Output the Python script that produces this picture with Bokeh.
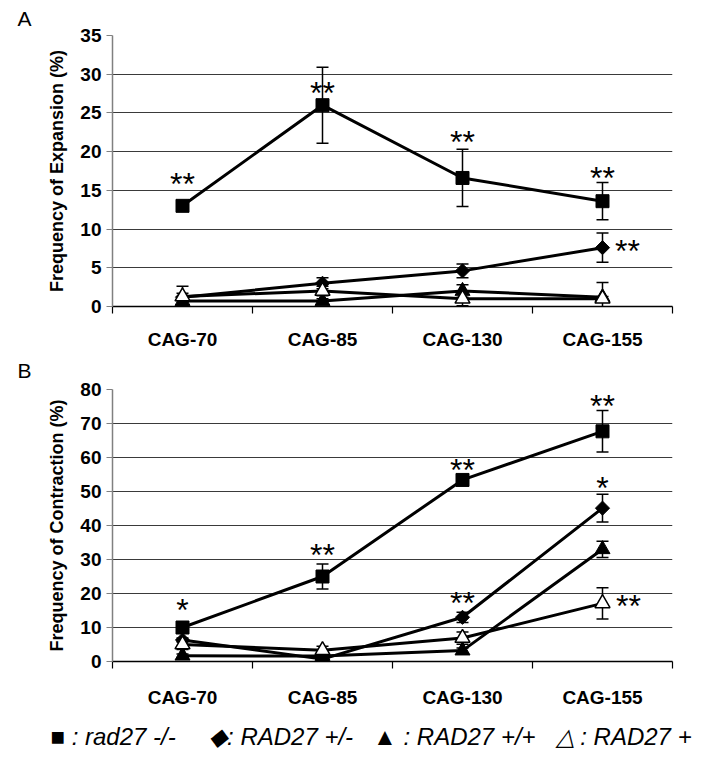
import math
from bokeh.plotting import figure
from bokeh.models import (ColumnDataSource, Range1d, FixedTicker, Whisker, TeeHead, Title)
from bokeh.layouts import column
from bokeh.embed import file_html
from bokeh.resources import INLINE
from bokeh.core.properties import value

# ---------------- data ----------------
categories = ["CAG-70", "CAG-85", "CAG-130", "CAG-155"]
series_names = ["rad27 -/-", "RAD27 +/-", "RAD27 +/+", "RAD27 +"]
series_symbols = ["\u25a0", "\u25c6", "\u25b2", "\u25b3"]

# Panel A: frequency of expansion (%)
exp_rad27_mm = [13.0, 26.0, 16.6, 13.6]
exp_rad27_mm_err = [0.6, 4.9, 3.7, 2.4]
exp_RAD27_pm = [1.2, 3.0, 4.6, 7.6]
exp_RAD27_pm_err = [0.5, 0.7, 0.9, 1.9]
exp_RAD27_pp = [0.7, 0.7, 2.0, 1.2]
exp_RAD27_pp_err = [0.5, 0.3, 0.8, 1.9]
exp_RAD27_p = [1.3, 2.0, 1.0, 1.0]
exp_RAD27_p_err = [1.3, 0.6, 0.9, 0.3]

# Panel B: frequency of contraction (%)
con_rad27_mm = [10.0, 25.0, 53.4, 67.7]
con_rad27_mm_err = [0.8, 3.7, 1.2, 6.1]
con_RAD27_pm = [6.3, 0.7, 13.0, 45.1]
con_RAD27_pm_err = [0.6, 0.4, 1.5, 4.1]
con_RAD27_pp = [1.7, 1.6, 3.2, 33.0]
con_RAD27_pp_err = [0.5, 0.4, 0.8, 2.4]
con_RAD27_p = [5.0, 3.3, 6.9, 17.1]
con_RAD27_p_err = [1.5, 1.2, 1.8, 4.6]

exp_ticks = [0, 5, 10, 15, 20, 25, 30, 35]
con_ticks = [0, 10, 20, 30, 40, 50, 60, 70, 80]

# significance marks: (series index, category index, text)
exp_stars = [(0, 0, "**"), (0, 1, "**"), (0, 2, "**"), (0, 3, "**"), (1, 3, "**")]
con_stars = [(0, 0, "*"), (0, 1, "**"), (0, 2, "**"), (0, 3, "**"),
             (1, 2, "**"), (1, 3, "*"), (3, 3, "**")]

# ---------------- styles / placement ----------------
FONT = "Liberation Sans"
# pixel offsets of the significance marks relative to their data point
exp_star_off = [(0, -25), (0, -15), (0, -39), (0, -26), (25, 0)]
con_star_off = [(0, -21), (0, -25), (0, -13), (0, -28), (0, -17), (0, -23), (26, 0)]

marker_styles = [
    dict(marker="square", size=13, angle=0.0, fill_color="black", line_width=1),
    dict(marker="square", size=10, angle=math.pi / 4, fill_color="black", line_width=1),
    dict(marker="triangle", size=15, angle=0.0, fill_color="black", line_width=1),
    dict(marker="triangle", size=15, angle=0.0, fill_color="white", line_width=1.5),
]

NB = "\u00a0"
legend_text = (series_symbols[0] + NB + ":" + NB + series_names[0] + NB * 5
               + series_symbols[1] + ":" + NB + series_names[1] + NB * 3
               + series_symbols[2] + NB + ":" + NB + series_names[2] + NB * 3
               + series_symbols[3] + NB + ":" + NB + series_names[3])


def make_panel(vals, errs, ticks, ylabel, stars, star_off, letter,
               top_border, frame_h, bottom_border, label_standoff, letter_standoff):
    p = figure(frame_width=560, frame_height=frame_h,
               min_border_left=112, min_border_right=33,
               min_border_top=top_border, min_border_bottom=bottom_border,
               x_range=Range1d(0, len(categories)),
               y_range=Range1d(ticks[0], ticks[-1]),
               output_backend="svg", toolbar_location=None)
    p.outline_line_color = None
    p.background_fill_color = "white"
    p.border_fill_color = "white"

    p.title = Title(text=letter, align="left", offset=-95, standoff=letter_standoff,
                    vertical_align="top",
                    text_font=FONT, text_font_size="21px", text_font_style="normal",
                    text_color="black")

    centers = [i + 0.5 for i in range(len(categories))]
    xa = p.xaxis[0]
    xa.ticker = FixedTicker(ticks=centers, minor_ticks=list(range(len(categories) + 1)))
    xa.major_label_overrides = {c: n for c, n in zip(centers, categories)}
    xa.major_tick_out = 0
    xa.major_tick_in = 0
    xa.minor_tick_out = 7
    xa.minor_tick_in = 0
    xa.minor_tick_line_color = "black"
    xa.minor_tick_line_width = 1.2
    xa.axis_line_color = "black"
    xa.axis_line_width = 1.5
    xa.major_label_standoff = label_standoff
    xa.major_label_text_font = FONT
    xa.major_label_text_font_style = "bold"
    xa.major_label_text_font_size = "19px"
    xa.major_label_text_color = "black"

    ya = p.yaxis[0]
    ya.ticker = FixedTicker(ticks=ticks, minor_ticks=[])
    ya.major_tick_out = 6
    ya.major_tick_in = 0
    ya.axis_line_color = "#808080"
    ya.axis_line_width = 1.5
    ya.major_tick_line_color = "#808080"
    ya.major_tick_line_width = 1.2
    ya.major_label_standoff = 5
    ya.major_label_text_font = FONT
    ya.major_label_text_font_style = "bold"
    ya.major_label_text_font_size = "19px"
    ya.major_label_text_color = "black"
    ya.axis_label = ylabel
    ya.axis_label_text_font = FONT
    ya.axis_label_text_font_style = "bold"
    ya.axis_label_text_font_size = "18px"
    ya.axis_label_text_color = "black"
    ya.axis_label_standoff = 10

    p.xgrid.visible = False
    p.ygrid.ticker = FixedTicker(ticks=ticks[1:-1])
    p.ygrid.grid_line_color = "#3a3a3a"
    p.ygrid.grid_line_width = 1

    sources = []
    for v, e in zip(vals, errs):
        src = ColumnDataSource(dict(x=centers, y=v,
                                    upper=[a + b for a, b in zip(v, e)],
                                    lower=[a - b for a, b in zip(v, e)]))
        sources.append(src)
        p.line("x", "y", source=src, line_color="black", line_width=3)

    for src in sources:
        w = Whisker(source=src, base="x", upper="upper", lower="lower",
                    line_color="black", line_width=1.5,
                    upper_head=TeeHead(size=12, line_color="black", line_width=1.5),
                    lower_head=TeeHead(size=12, line_color="black", line_width=1.5))
        p.add_layout(w)

    for src, st in zip(sources, marker_styles):
        p.scatter("x", "y", source=src, line_color="black", **st)

    sx, sy, st_txt, dxs, dys = [], [], [], [], []
    for (si, ci, txt), (dx, dy) in zip(stars, star_off):
        sx.append(centers[ci])
        sy.append(vals[si][ci])
        st_txt.append(txt)
        dxs.append(dx)
        dys.append(dy + 3)
    p.text(x=sx, y=sy, text=st_txt, x_offset=dxs, y_offset=dys,
           text_font=value(FONT), text_font_size="32px", text_color="black",
           text_align="center", text_baseline="middle")
    return p


pA = make_panel([exp_rad27_mm, exp_RAD27_pm, exp_RAD27_pp, exp_RAD27_p],
                [exp_rad27_mm_err, exp_RAD27_pm_err, exp_RAD27_pp_err, exp_RAD27_p_err],
                exp_ticks, "Frequency of Expansion (%)", exp_stars, exp_star_off, "A",
                35, 271, 45, 15, 8)
pB = make_panel([con_rad27_mm, con_RAD27_pm, con_RAD27_pp, con_RAD27_p],
                [con_rad27_mm_err, con_RAD27_pm_err, con_RAD27_pp_err, con_RAD27_p_err],
                con_ticks, "Frequency of Contraction (%)", con_stars, con_star_off, "B",
                37, 272, 106, 18, 11)

legend_title = Title(text=legend_text, align="left", offset=-62, standoff=24,
                     vertical_align="top",
                     text_font=FONT, text_font_size="24px", text_font_style="italic",
                     text_color="black")
pB.add_layout(legend_title, "below")

layout = column(pA, pB, spacing=0)
open("out.html", "w").write(file_html(layout, INLINE))
